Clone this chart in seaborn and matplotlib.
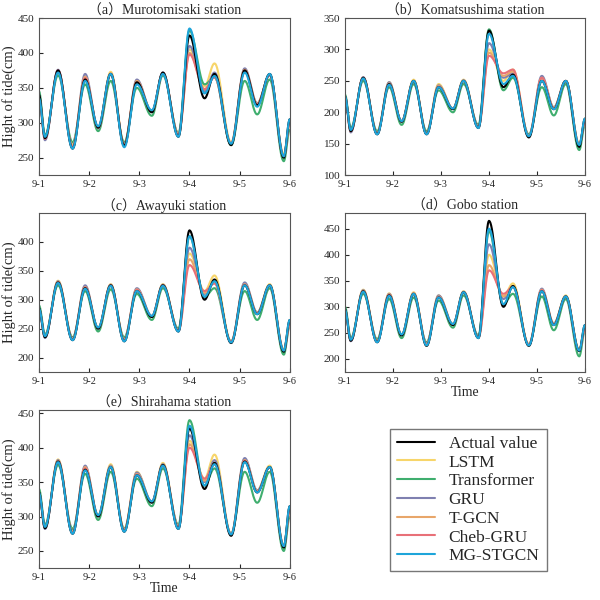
import numpy as np, pandas as pd
import matplotlib
matplotlib.use("Agg")
import matplotlib.pyplot as plt
import seaborn as sns
from matplotlib.lines import Line2D

sns.set_style("ticks")
plt.rcParams['font.family'] = ['Liberation Serif', 'Noto Sans CJK SC']

times = [0, 0.12, 0.38, 0.67, 0.92, 1.18, 1.43, 1.7, 1.95, 2.25, 2.47, 2.78, 3.0, 3.3, 3.5, 3.83, 4.1, 4.35, 4.6, 4.88, 5.0]
models = ["Actual value", "LSTM", "Transformer", "GRU", "T-GCN", "Cheb-GRU", "MG-STGCN"]
colors = ["#000000", "#F7D56A", "#3FAE6E", "#7F80B0", "#E8A66A", "#E87078", "#1EA5DA"]
xticklabels = ["9-1", "9-2", "9-3", "9-4", "9-5", "9-6"]

a_actual = [340,278,375,263,362,293,370,267,358,315,372,280,425,335,370,268,375,325,370,250,305]
a_lstm   = [338,280,373,268,365,292,373,270,360,316,370,285,405,352,385,272,376,328,368,255,300]
a_trans  = [345,282,368,272,355,288,360,272,350,310,368,285,432,355,365,268,360,312,362,245,290]
a_gru    = [335,275,376,265,370,292,370,268,362,316,372,283,410,345,372,270,378,328,368,252,300]
a_tgcn   = [336,278,374,266,366,293,371,268,360,316,371,283,400,348,366,270,376,327,369,252,300]
a_cheb   = [336,277,375,265,364,294,370,268,358,316,371,282,398,348,365,270,375,326,369,252,300]
a_mg     = [335,280,372,263,360,295,370,265,355,318,370,280,435,342,367,270,372,323,370,252,305]

b_actual = [225,170,255,165,245,185,250,165,240,205,250,175,330,240,260,160,250,205,250,145,190]
b_lstm   = [225,172,255,168,248,186,252,168,245,206,252,178,300,250,268,163,255,208,250,150,185]
b_trans  = [228,175,250,170,240,180,245,170,235,200,245,180,332,235,255,165,240,195,245,140,180]
b_gru    = [224,168,256,166,248,185,250,166,243,206,251,177,310,255,262,162,258,208,250,148,185]
b_tgcn   = [224,170,255,166,246,186,250,166,242,206,250,177,295,258,265,162,255,207,250,148,185]
b_cheb   = [224,170,255,166,245,186,250,166,241,206,250,176,290,262,268,162,255,206,250,148,185]
b_mg     = [225,172,254,165,244,186,250,165,240,206,250,175,325,245,258,162,250,205,250,148,190]

c_actual = [285,235,330,230,320,250,325,228,315,270,325,245,420,300,335,225,325,275,325,210,265]
c_lstm   = [285,238,333,233,323,251,327,232,318,271,327,248,380,315,342,228,328,278,327,214,260]
c_trans  = [290,240,325,235,315,245,318,235,310,265,320,250,410,305,320,228,315,265,320,205,255]
c_gru    = [283,234,332,232,325,250,326,230,320,272,326,247,390,310,330,227,330,278,325,212,258]
c_tgcn   = [283,236,331,232,322,251,325,230,318,271,325,247,370,312,330,227,327,277,325,212,258]
c_cheb   = [283,236,330,231,321,251,325,230,317,271,325,246,360,315,328,227,326,276,325,212,258]
c_mg     = [284,237,329,230,319,252,324,228,315,272,324,245,410,305,332,226,325,275,325,212,265]

d_actual = [295,235,330,232,322,245,325,225,318,265,328,240,465,300,340,225,330,265,320,215,265]
d_lstm   = [295,238,333,236,326,247,328,230,322,267,330,243,400,320,345,228,333,268,322,218,260]
d_trans  = [300,240,325,238,315,240,318,232,312,260,322,245,445,305,325,228,320,255,315,205,255]
d_gru    = [293,234,332,234,325,246,326,228,322,267,329,242,420,315,338,227,335,268,320,216,258]
d_tgcn   = [293,236,331,234,324,246,326,228,320,266,328,242,380,320,340,227,333,267,320,216,258]
d_cheb   = [293,236,330,233,323,246,325,228,319,266,328,241,370,325,338,227,332,266,320,216,258]
d_mg     = [294,237,329,232,321,247,325,226,318,267,328,240,450,305,338,226,330,265,320,216,265]

e_actual = [335,283,380,275,368,300,372,278,360,320,375,282,428,340,378,272,380,335,372,255,315]
e_lstm   = [335,286,383,278,372,302,376,282,365,321,378,286,410,355,390,275,383,338,374,258,310]
e_trans  = [340,288,375,282,362,295,365,282,355,315,370,288,440,345,370,275,365,320,365,250,300]
e_gru    = [333,282,382,277,374,301,374,280,364,322,376,285,418,350,382,274,385,338,372,257,308]
e_tgcn   = [333,284,381,277,372,301,373,280,362,321,375,285,405,352,378,274,382,337,372,257,308]
e_cheb   = [333,284,380,276,370,301,372,280,361,321,375,284,400,355,376,274,381,336,372,257,308]
e_mg     = [334,285,379,275,367,302,372,278,360,322,374,282,432,345,376,274,379,335,372,257,315]

stations = [
    ("（a）Murotomisaki station", [a_actual,a_lstm,a_trans,a_gru,a_tgcn,a_cheb,a_mg], (225,450), [250,300,350,400,450]),
    ("（b）Komatsushima station", [b_actual,b_lstm,b_trans,b_gru,b_tgcn,b_cheb,b_mg], (100,350), [100,150,200,250,300,350]),
    ("（c）Awayuki station", [c_actual,c_lstm,c_trans,c_gru,c_tgcn,c_cheb,c_mg], (175,450), [200,250,300,350,400]),
    ("（d）Gobo station", [d_actual,d_lstm,d_trans,d_gru,d_tgcn,d_cheb,d_mg], (175,480), [200,250,300,350,400,450]),
    ("（e）Shirahama station", [e_actual,e_lstm,e_trans,e_gru,e_tgcn,e_cheb,e_mg], (225,455), [250,300,350,400,450]),
]

def smooth(tk, vk, n=20):
    xs, ys = [], []
    for i in range(len(tk)-1):
        s = np.linspace(0, 1, n, endpoint=False)
        w = (1 - np.cos(np.pi*s))/2
        xs.extend(tk[i] + (tk[i+1]-tk[i])*s)
        ys.extend(vk[i] + (vk[i+1]-vk[i])*w)
    xs.append(tk[-1]); ys.append(vk[-1])
    return xs, ys

fig = plt.figure(figsize=(6, 6), dpi=100)
pos = [(0.065,0.708,0.418,0.262),(0.575,0.708,0.40,0.262),
       (0.065,0.38,0.418,0.265),(0.575,0.38,0.40,0.265),
       (0.065,0.053,0.418,0.264)]
for k,(title, series, ylim, yt) in enumerate(stations):
    ax = fig.add_axes(pos[k])
    rows = []
    for m in [1,2,3,4,5,0,6]:
        xs, ys = smooth(times, series[m])
        rows.append(pd.DataFrame({"t": xs, "v": ys, "model": models[m]}))
    df = pd.concat(rows)
    sns.lineplot(data=df, x="t", y="v", hue="model", palette=dict(zip(models, colors)),
                 estimator=None, sort=False, legend=False, linewidth=1.5, ax=ax)
    ax.set_xlim(0, 5); ax.set_ylim(*ylim)
    ax.set_xticks(range(6)); ax.set_xticklabels(xticklabels, fontsize=7.5)
    ax.set_yticks(yt); ax.tick_params(axis='y', labelsize=8)
    ax.tick_params(length=3, direction='in')
    ax.set_title(title, fontsize=10, pad=2)
    ax.set_xlabel("Time" if k in (3,4) else "", fontsize=10, labelpad=0)
    ax.set_ylabel("Hight of tide(cm)" if k in (0,2,4) else "", fontsize=10.5, labelpad=1)
    for sp in ax.spines.values(): sp.set_color("#555555"); sp.set_linewidth(0.8)

handles = [Line2D([0],[0], color=c, lw=1.5) for c in colors]
fig.legend(handles, models, loc="upper left", bbox_to_anchor=(0.635, 0.30), fontsize=12.5,
           frameon=True, fancybox=False, edgecolor="#555555", handlelength=2.2,
           labelspacing=0.15, borderpad=0.4)
fig.savefig("out.png", dpi=100)
